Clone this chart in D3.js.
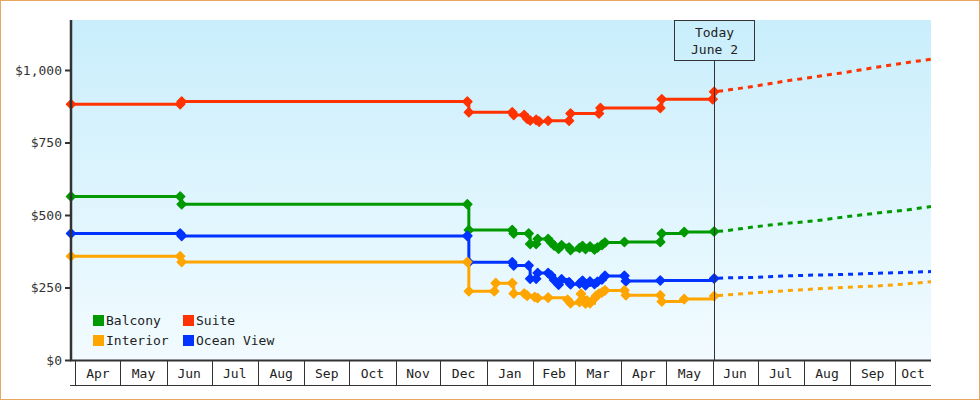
<!DOCTYPE html>
<html>
<head>
<meta charset="utf-8">
<script src="https://cdn.jsdelivr.net/npm/d3@7"></script>
<style>
  body { margin: 0; background: #fff; }
  svg { display: block; font-family: "DejaVu Sans Mono", monospace; }
</style>
</head>
<body>
<div id="plot"></div>
<script>
// cabin price history
let seriesNames = ["Balcony", "Suite", "Interior", "Ocean View"];
let seriesColors = ["#009900", "#ff3300", "#ffa500", "#0033ff"];

let suiteDates = ["2018-03-29","2018-06-10","2018-06-11","2018-12-19","2018-12-20","2019-01-18","2019-01-19","2019-01-26","2019-01-28","2019-01-30","2019-02-03","2019-02-05","2019-02-11","2019-02-25","2019-02-26","2019-03-17","2019-03-18","2019-04-27","2019-04-28","2019-06-01","2019-06-02"];
let suitePrices = [882,882,891,891,854,854,845,845,832,826,828,822,825,825,850,850,869,869,899,899,925];

let balconyDates = ["2018-03-29","2018-06-10","2018-06-11","2018-12-19","2018-12-20","2019-01-18","2019-01-19","2019-01-29","2019-01-30","2019-02-03","2019-02-04","2019-02-11","2019-02-13","2019-02-15","2019-02-18","2019-02-20","2019-02-25","2019-02-26","2019-03-04","2019-03-06","2019-03-08","2019-03-11","2019-03-14","2019-03-16","2019-03-19","2019-03-21","2019-04-03","2019-04-27","2019-04-28","2019-05-13","2019-06-02"];
let balconyPrices = [564,564,537,537,448,448,436,436,400,400,417,417,405,395,384,396,388,379,386,393,383,391,381,388,397,405,407,407,436,441,443];

let oceanDates = ["2018-03-29","2018-06-10","2018-06-11","2018-12-19","2018-12-20","2019-01-18","2019-01-19","2019-01-29","2019-01-30","2019-02-03","2019-02-04","2019-02-11","2019-02-13","2019-02-15","2019-02-18","2019-02-20","2019-02-25","2019-02-26","2019-03-04","2019-03-06","2019-03-08","2019-03-11","2019-03-14","2019-03-16","2019-03-19","2019-03-21","2019-04-03","2019-04-04","2019-04-27","2019-06-02"];
let oceanPrices = [436,436,428,428,337,337,326,326,280,280,300,300,291,276,260,278,268,261,264,273,258,271,262,270,278,290,290,272,274,281];

let interiorDates = ["2018-03-29","2018-06-10","2018-06-11","2018-12-19","2018-12-20","2019-01-06","2019-01-07","2019-01-18","2019-01-19","2019-01-26","2019-01-28","2019-02-02","2019-02-04","2019-02-11","2019-02-24","2019-02-26","2019-03-04","2019-03-05","2019-03-06","2019-03-08","2019-03-09","2019-03-11","2019-03-14","2019-03-15","2019-03-17","2019-03-19","2019-03-21","2019-04-03","2019-04-04","2019-04-27","2019-04-28","2019-05-13","2019-06-02"];
let interiorPrices = [358,358,338,338,237,237,265,265,229,229,222,217,214,215,208,196,200,228,210,195,205,196,212,221,228,233,240,240,223,223,202,210,221];

// projected prices after today
let forecastDates = ["2019-06-02","2019-06-09","2019-06-30","2019-07-20","2019-08-09","2019-08-29","2019-09-18","2019-10-08","2019-10-25"];
let suiteForecast = [925,929,945,962,977,992,1009,1025,1037];
let balconyForecast = [443,445,460,471,480,494,506,517,529];
let oceanForecast = [281,283,285,290,293,295,299,302,305];
let interiorForecast = [221,224,232,239,245,251,255,262,270];

let monthLabels = ["Apr","May","Jun","Jul","Aug","Sep","Oct","Nov","Dec","Jan","Feb","Mar","Apr","May","Jun","Jul","Aug","Sep","Oct"];
let yTicks = [0, 250, 500, 750, 1000];
let todayDate = "2019-06-02";
let todayLabel = ["Today", "June 2"];

let svgWidth = 980;
let svgHeight = 400;
let margin = { top: 20, right: 49, bottom: 40, left: 71 };
let width = svgWidth - margin.left - margin.right;
let height = svgHeight - margin.top - margin.bottom;

let parse = d3.timeParse("%Y-%m-%d");
let start = parse("2018-03-29");
let end = parse("2019-10-25");

function pairs(dates, values) {
    return dates.map((d, i) => ({ date: parse(d), value: values[i] }));
}

// draw order: blue under orange
let series = [
    { name: "Suite", color: seriesColors[1], hist: pairs(suiteDates, suitePrices), fc: pairs(forecastDates, suiteForecast) },
    { name: "Balcony", color: seriesColors[0], hist: pairs(balconyDates, balconyPrices), fc: pairs(forecastDates, balconyForecast) },
    { name: "Ocean View", color: seriesColors[3], hist: pairs(oceanDates, oceanPrices), fc: pairs(forecastDates, oceanForecast) },
    { name: "Interior", color: seriesColors[2], hist: pairs(interiorDates, interiorPrices), fc: pairs(forecastDates, interiorForecast) }
];

let x = d3.scaleTime().domain([start, end]).range([0, width]);
let y = d3.scaleLinear().domain([0, 1172.4]).range([height, 0]);

let svg = d3.select('#plot')
    .append('svg')
    .attr('width', svgWidth)
    .attr('height', svgHeight);

let defs = svg.append('defs');
let grad = defs.append('linearGradient')
    .attr('id', 'bg').attr('x1', 0).attr('y1', 0).attr('x2', 0).attr('y2', 1);
grad.append('stop').attr('offset', '0%').attr('stop-color', '#c9eefc');
grad.append('stop').attr('offset', '100%').attr('stop-color', '#f2fbff');
defs.append('clipPath').attr('id', 'clip')
    .append('rect').attr('x', -10).attr('y', -10).attr('width', width + 10).attr('height', height + 10);

// outer frame
svg.append('rect')
    .attr('x', 0.5).attr('y', 0.5)
    .attr('width', svgWidth - 1).attr('height', svgHeight - 1)
    .attr('fill', '#fff')
    .attr('stroke', '#e8a660');

let chart = svg.append('g')
    .attr('transform', `translate(${margin.left},${margin.top})`);

chart.append('rect')
    .attr('width', width).attr('height', height)
    .attr('fill', 'url(#bg)');

// month cells under the axis
let months = d3.timeMonth.range(d3.timeMonth.ceil(start), end);
let xAxisG = chart.append('g').attr('transform', `translate(0,${height})`);
xAxisG.selectAll('line.sep').data(months).enter()
    .append('line')
    .attr('class', 'sep')
    .attr('x1', d => Math.round(x(d)) + 0.5).attr('x2', d => Math.round(x(d)) + 0.5)
    .attr('y1', 0).attr('y2', 25)
    .attr('stroke', '#333').attr('stroke-width', 1);
xAxisG.append('line')
    .attr('x1', -1).attr('x2', width)
    .attr('y1', 25.5).attr('y2', 25.5)
    .attr('stroke', '#333').attr('stroke-width', 1);
xAxisG.selectAll('text').data(months).enter()
    .append('text')
    .attr('x', d => {
        let a = x(d);
        let b = Math.min(x(d3.timeMonth.offset(d, 1)), width);
        return (a + b) / 2;
    })
    .attr('y', 18)
    .attr('text-anchor', 'middle')
    .attr('font-size', 13)
    .attr('fill', '#222')
    .text((d, i) => monthLabels[i]);

// price lines
let stepLine = d3.line().x(d => x(d.date)).y(d => y(d.value)).curve(d3.curveStepAfter);
let fcLine = d3.line().x(d => x(d.date)).y(d => y(d.value));
let diamond = 'M0,-4.5L4.5,0L0,4.5L-4.5,0Z';

let lines = chart.append('g').attr('clip-path', 'url(#clip)');
series.forEach(function(s) {
    lines.append('path')
        .datum(s.fc)
        .attr('d', fcLine)
        .attr('fill', 'none')
        .attr('stroke', s.color)
        .attr('stroke-width', 3)
        .attr('stroke-dasharray', '5,5')
        .attr('stroke-dashoffset', -4);
});
series.forEach(function(s) {
    lines.append('path')
        .datum(s.hist)
        .attr('d', stepLine)
        .attr('fill', 'none')
        .attr('stroke', s.color)
        .attr('stroke-width', 3);
    lines.selectAll(null).data(s.hist).enter()
        .append('path')
        .attr('d', diamond)
        .attr('transform', d => `translate(${x(d.date)},${y(d.value)})`)
        .attr('fill', s.color)
        .attr('stroke', s.color)
        .attr('stroke-width', 1.5)
        .attr('stroke-linejoin', 'round');
});

// axes on top of the marks
xAxisG.append('line')
    .attr('x1', -1).attr('x2', width)
    .attr('y1', 0.5).attr('y2', 0.5)
    .attr('stroke', '#333').attr('stroke-width', 2);
chart.node().appendChild(xAxisG.node());

let yAxis = d3.axisLeft(y)
    .tickValues(yTicks)
    .tickSize(6)
    .tickPadding(3)
    .tickFormat(d => '$' + d3.format(',')(d));
let yG = chart.append('g').call(yAxis);
yG.select('.domain').remove();
yG.selectAll('.tick line').attr('stroke', '#333').attr('stroke-width', 2);
yG.selectAll('.tick text')
    .attr('font-family', '"DejaVu Sans Mono", monospace')
    .attr('font-size', 13)
    .attr('fill', '#333');
chart.append('line')
    .attr('x1', 0).attr('x2', 0)
    .attr('y1', 0).attr('y2', height + 1)
    .attr('stroke', '#333').attr('stroke-width', 2.5);

// today marker
let tx = Math.round(x(parse(todayDate))) + 0.5;
chart.append('line')
    .attr('x1', tx).attr('x2', tx)
    .attr('y1', 40).attr('y2', height)
    .attr('stroke', '#333').attr('stroke-width', 1);
chart.append('rect')
    .attr('x', tx - 40).attr('y', 0.5)
    .attr('width', 80).attr('height', 40)
    .attr('fill', 'none')
    .attr('stroke', '#333').attr('stroke-width', 1);
chart.selectAll('text.today').data(todayLabel).enter()
    .append('text')
    .attr('class', 'today')
    .attr('x', tx)
    .attr('y', (d, i) => 17 + i * 17)
    .attr('text-anchor', 'middle')
    .attr('font-size', 13)
    .attr('fill', '#222')
    .text(d => d);

// legend
let legend = chart.append('g').attr('transform', 'translate(22,295)');
let legItems = legend.selectAll('g').data(seriesNames).enter()
    .append('g')
    .attr('transform', (d, i) => `translate(${(i % 2) * 90},${Math.floor(i / 2) * 20})`);
legItems.append('rect')
    .attr('width', 11).attr('height', 11)
    .attr('fill', (d, i) => seriesColors[i]);
legItems.append('text')
    .attr('x', 13).attr('y', 10)
    .attr('font-size', 13)
    .attr('fill', '#222')
    .text(d => d);
</script>
</body>
</html>
